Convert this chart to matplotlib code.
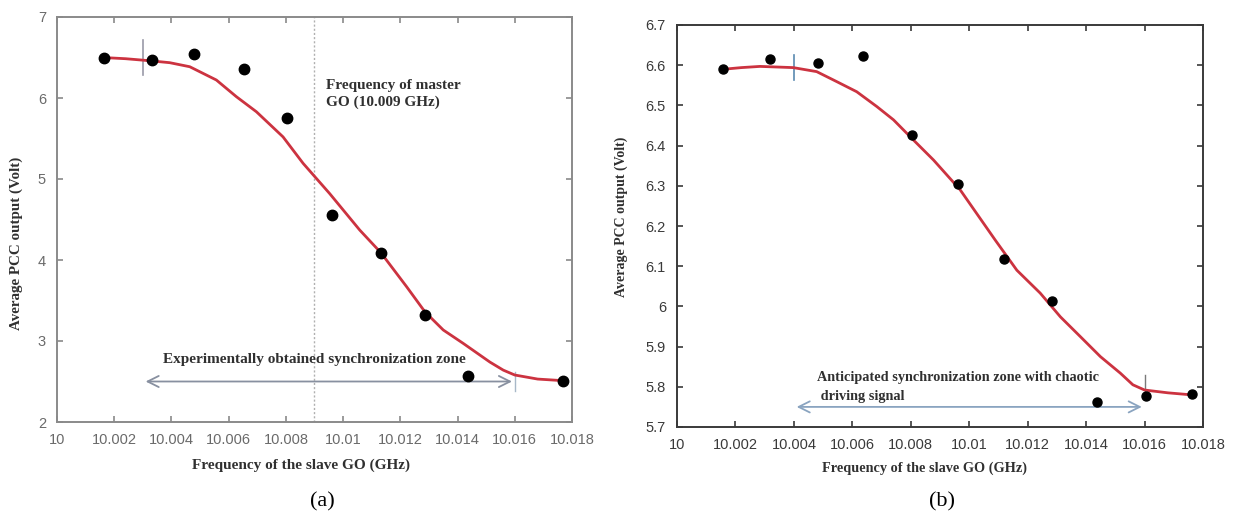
import matplotlib
matplotlib.use("Agg")
import matplotlib.pyplot as plt
from matplotlib.ticker import FuncFormatter, MultipleLocator

# ---------------- data: panel (a) ----------------
a_x = [10.00163, 10.00333, 10.00478, 10.00652, 10.00803, 10.00962,
       10.01132, 10.01286, 10.01438, 10.0177]
a_y = [6.50, 6.47, 6.54, 6.36, 5.75, 4.55, 4.09, 3.32, 2.57, 2.51]
a_fit_x = [10.0016, 10.0024, 10.00324, 10.00394, 10.00464, 10.00557,
           10.00627, 10.00697, 10.0079, 10.0086, 10.00953, 10.01058,
           10.01132, 10.01222, 10.01286, 10.0135, 10.0142, 10.01513,
           10.0156, 10.0160, 10.0168, 10.0177]
a_fit_y = [6.50, 6.485, 6.46, 6.436, 6.386, 6.222, 6.016, 5.83, 5.52,
           5.194, 4.82, 4.37, 4.09, 3.67, 3.36, 3.136, 2.97, 2.74, 2.64,
           2.58, 2.53, 2.51]
a_master = 10.009
a_zone = [10.003, 10.016]
a_zone_y = 2.5

# ---------------- data: panel (b) ----------------
b_x = [10.00159, 10.00318, 10.00482, 10.00636, 10.00804, 10.00962,
       10.01119, 10.01284, 10.01438, 10.01604, 10.01762]
b_y = [6.59, 6.615, 6.605, 6.623, 6.427, 6.305, 6.118, 6.014, 5.762,
       5.778, 5.782]
b_fit_x = [10.0016, 10.0022, 10.00284, 10.00398, 10.00478, 10.00547,
           10.00615, 10.00684, 10.00741, 10.00809, 10.00878, 10.00969,
           10.01089, 10.01163, 10.01243, 10.01312, 10.0138, 10.01449,
           10.01517, 10.0156, 10.0160, 10.0168, 10.0176]
b_fit_y = [6.59, 6.594, 6.597, 6.594, 6.584, 6.559, 6.534, 6.497, 6.464,
           6.414, 6.364, 6.29, 6.165, 6.09, 6.033, 5.974, 5.925, 5.875,
           5.834, 5.805, 5.792, 5.785, 5.78]
b_zone = [10.004, 10.016]
b_zone_y = 5.75

x_ticks = [10, 10.002, 10.004, 10.006, 10.008, 10.01, 10.012, 10.014,
           10.016, 10.018]
x_tick_labels = ["10", "10.002", "10.004", "10.006", "10.008", "10.01",
                 "10.012", "10.014", "10.016", "10.018"]

SERIF = "Liberation Serif"
SANS = "Liberation Sans"

fig = plt.figure(figsize=(12.4, 5.15), dpi=100)
fig.patch.set_facecolor("white")

def style_axes(ax, spine_color, tick_color, label_color):
    for s in ax.spines.values():
        s.set_color(spine_color)
        s.set_linewidth(1.4)
    ax.tick_params(direction="in", top=True, right=True, length=4,
                   width=1.2, color=tick_color, labelcolor=label_color,
                   labelsize=10.5, pad=8)
    ax.set_xlim(10, 10.018)
    ax.set_xticks(x_ticks)
    ax.set_xticklabels(x_tick_labels, fontfamily=SANS)

# ---------------- panel (a) ----------------
ax1 = fig.add_axes([57/1240, 1-422/515, 515/1240, 405/515])
ax1.set_ylim(2, 7)
ax1.yaxis.set_major_locator(MultipleLocator(1))
style_axes(ax1, "#8a8a8a", "#8a8a8a", "#6a6a6a")
for lab in ax1.get_yticklabels():
    lab.set_fontfamily(SANS)
ax1.axvline(a_master, color="#b0b0b0", lw=1.0, ls=(0, (1.5, 1.5)), zorder=1)
ax1.plot([10.00301, 10.00301], [6.28, 6.72], color="#9a9aa8", lw=1.2, zorder=2)
ax1.plot(a_fit_x, a_fit_y, color="#cc3340", lw=2.0, zorder=3)
ax1.plot(a_x, a_y, "o", color="black", ms=7.5, zorder=4)
ax1.annotate("", xy=(a_zone[0], a_zone_y), xytext=(a_zone[1], a_zone_y),
             arrowprops=dict(arrowstyle="<->", color="#8890a0", lw=1.3,
                             mutation_scale=20), zorder=2)
ax1.plot([a_zone[1], a_zone[1]], [2.38, 2.62], color="#a8b8c8", lw=1.0, zorder=2)
ax1.text(10.009, 2.77, "Experimentally obtained synchronization zone",
         fontfamily=SERIF, fontweight="bold", fontsize=11, color="#303030",
         ha="center", va="center")
ax1.text(10.0094, 6.05, "Frequency of master\nGO (10.009 GHz)",
         fontfamily=SERIF, fontweight="bold", fontsize=11, color="#303030",
         ha="left", va="center", linespacing=1.35)
ax1.set_xlabel("Frequency of the slave GO (GHz)", fontfamily=SERIF,
               fontweight="bold", fontsize=11, color="#303030")
ax1.xaxis.set_label_coords(0.474, -0.089)
ax1.set_ylabel("Average PCC output (Volt)", fontfamily=SERIF,
               fontweight="bold", fontsize=10.8, color="#303030")
ax1.yaxis.set_label_coords(-0.066, 0.442)

# ---------------- panel (b) ----------------
ax2 = fig.add_axes([677/1240, 1-427/515, 526/1240, 402/515])
ax2.set_ylim(5.7, 6.7)
ax2.set_yticks([5.7, 5.8, 5.9, 6.0, 6.1, 6.2, 6.3, 6.4, 6.5, 6.6, 6.7])
ax2.yaxis.set_major_formatter(FuncFormatter(lambda v, p: f"{v:.1f}".rstrip("0").rstrip(".")))
style_axes(ax2, "#3a3a3a", "#3a3a3a", "#3a3a3a")
for lab in ax2.get_yticklabels():
    lab.set_fontfamily(SANS)
ax2.plot([10.004, 10.004], [6.563, 6.625], color="#5a8ab0", lw=1.2, zorder=2)
ax2.plot([10.016, 10.016], [5.787, 5.83], color="#7a7a7a", lw=1.0, zorder=2)
ax2.plot(b_fit_x, b_fit_y, color="#cc3340", lw=2.0, zorder=3)
ax2.plot(b_x, b_y, "o", color="black", ms=6.5, zorder=4)
ax2.annotate("", xy=(b_zone[0], b_zone_y), xytext=(b_zone[1], b_zone_y),
             arrowprops=dict(arrowstyle="<->", color="#8aa4c0", lw=1.3,
                             mutation_scale=20), zorder=2)
ax2.text(10.0048, 5.822, "Anticipated synchronization zone with chaotic",
         fontfamily=SERIF, fontweight="bold", fontsize=10.3, color="#303030",
         ha="left", va="center")
ax2.text(10.0048, 5.777, " driving signal",
         fontfamily=SERIF, fontweight="bold", fontsize=10.3, color="#303030",
         ha="left", va="center")
ax2.set_xlabel("Frequency of the slave GO (GHz)", fontfamily=SERIF,
               fontweight="bold", fontsize=10.3, color="#303030")
ax2.xaxis.set_label_coords(0.471, -0.085)
ax2.set_ylabel("Average PCC output (Volt)", fontfamily=SERIF,
               fontweight="bold", fontsize=10, color="#303030")
ax2.yaxis.set_label_coords(-0.093, 0.522)

fig.text(322/1240, 1-502/515, "(a)", fontfamily=SERIF, fontsize=16,
         ha="center", va="center", color="black")
fig.text(942/1240, 1-502/515, "(b)", fontfamily=SERIF, fontsize=16,
         ha="center", va="center", color="black")

fig.savefig("out.png", dpi=100, facecolor="white")
